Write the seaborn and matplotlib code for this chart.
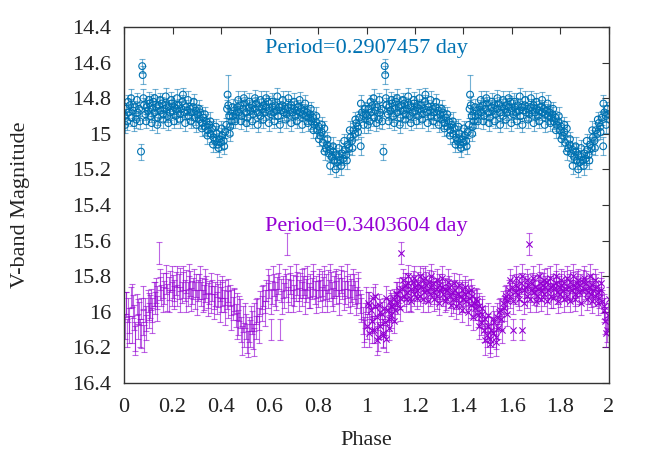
import matplotlib
matplotlib.use("Agg")
import matplotlib.pyplot as plt
import seaborn as sns
import pandas as pd
from matplotlib.ticker import MultipleLocator, FuncFormatter

# Curva de luz azul (periodo 0.2907457 d), fase 0-1
azul_fase = [
    0.003, 0.008, 0.013, 0.019, 0.024, 0.031, 0.037, 0.044, 0.050, 0.056,
    0.062, 0.070, 0.075, 0.077, 0.082, 0.088, 0.093, 0.099, 0.105, 0.110,
    0.116, 0.121, 0.127, 0.133, 0.139, 0.144, 0.150, 0.156, 0.161, 0.167,
    0.173, 0.178, 0.184, 0.190, 0.196, 0.201, 0.207, 0.213, 0.219, 0.225,
    0.231, 0.237, 0.243, 0.249, 0.255, 0.261, 0.267, 0.273, 0.279, 0.285,
    0.291, 0.297, 0.303, 0.309, 0.315, 0.321, 0.327, 0.333, 0.339, 0.345,
    0.351, 0.357, 0.363, 0.369, 0.375, 0.381, 0.387, 0.393, 0.399, 0.405,
    0.411, 0.417, 0.422, 0.427, 0.430, 0.434, 0.438, 0.443, 0.449, 0.455,
    0.461, 0.467, 0.473, 0.479, 0.485, 0.491, 0.497, 0.503, 0.509, 0.515,
    0.521, 0.527, 0.533, 0.539, 0.545, 0.551, 0.557, 0.563, 0.569, 0.575,
    0.581, 0.587, 0.593, 0.599, 0.605, 0.611, 0.617, 0.623, 0.629, 0.635,
    0.641, 0.647, 0.653, 0.659, 0.665, 0.671, 0.677, 0.683, 0.689, 0.695,
    0.701, 0.707, 0.713, 0.719, 0.725, 0.731, 0.737, 0.743, 0.749, 0.755,
    0.761, 0.767, 0.773, 0.779, 0.785, 0.791, 0.797, 0.803, 0.809, 0.815,
    0.820, 0.826, 0.832, 0.838, 0.844, 0.850, 0.856, 0.862, 0.868, 0.874,
    0.880, 0.886, 0.892, 0.898, 0.904, 0.910, 0.916, 0.922, 0.928, 0.934,
    0.940, 0.946, 0.952, 0.958, 0.964, 0.970, 0.976, 0.981, 0.987, 0.993,
    0.998]
azul_mag = [
    14.90, 14.86, 14.93, 14.88, 14.84, 14.91, 14.87, 14.85, 14.92, 14.88,
    14.86, 15.10, 14.62, 14.67, 14.84, 14.89, 14.85, 14.87, 14.83, 14.90,
    14.86, 14.82, 14.88, 14.85, 14.91, 14.84, 14.87, 14.83, 14.89, 14.86,
    14.84, 14.90, 14.85, 14.88, 14.83, 14.87, 14.85, 14.90, 14.86, 14.84,
    14.89, 14.86, 14.78, 14.88, 14.85, 14.87, 14.90, 14.86, 14.88, 14.85,
    14.91, 14.87, 14.89, 14.92, 14.88, 14.94, 14.91, 14.96, 14.93, 14.98,
    14.95, 15.00, 14.97, 15.02, 15.04, 15.00, 15.06, 15.03, 15.05, 15.01,
    15.04, 14.99, 14.95, 14.78, 14.84, 14.90, 14.96, 14.93, 14.90, 14.87,
    14.89, 14.85, 14.88, 14.84, 14.90, 14.86, 14.83, 14.88, 14.91, 14.85,
    14.87, 14.84, 14.89, 14.86, 14.83, 14.88, 14.85, 14.90, 14.86, 14.84,
    14.88, 14.85, 14.82, 14.87, 14.89, 14.85, 14.88, 14.84, 14.87, 14.90,
    14.85, 14.87, 14.84, 14.88, 14.86, 14.89, 14.85, 14.87, 14.84, 14.88,
    14.86, 14.90, 14.87, 14.85, 14.88, 14.86, 14.89, 14.87, 14.90, 14.88,
    14.91, 14.89, 14.93, 14.91, 14.95, 14.93, 14.98, 14.96, 15.01, 14.99,
    15.05, 14.97, 15.08, 15.06, 15.11, 15.09, 15.13, 15.10, 15.15, 15.12,
    15.16, 15.13, 15.15, 15.11, 15.14, 15.09, 15.12, 15.06, 15.08, 15.02,
    15.04, 14.98, 15.00, 14.94, 14.96, 14.91, 15.07, 14.88, 14.90, 14.86,
    14.89]
azul_err = [
    .040, .035, .050, .040, .035, .045, .040, .035, .050, .040,
    .040, .045, .040, .050, .040, .035, .040, .045, .040, .035,
    .040, .045, .040, .035, .040, .045, .040, .035, .040, .045,
    .040, .035, .040, .045, .040, .035, .040, .045, .040, .035,
    .040, .045, .040, .035, .040, .045, .040, .035, .040, .045,
    .040, .035, .040, .045, .040, .035, .040, .045, .040, .035,
    .040, .045, .040, .035, .040, .045, .040, .035, .040, .045,
    .040, .035, .040, .110, .050, .040, .045, .040, .035, .040,
    .045, .040, .035, .040, .045, .040, .035, .040, .045, .040,
    .035, .040, .045, .040, .035, .040, .045, .040, .035, .040,
    .045, .040, .035, .040, .045, .040, .035, .040, .045, .040,
    .035, .040, .045, .040, .035, .040, .045, .040, .035, .040,
    .045, .040, .035, .040, .045, .040, .035, .040, .045, .040,
    .035, .040, .045, .040, .035, .040, .045, .040, .035, .040,
    .045, .040, .035, .040, .045, .040, .035, .040, .045, .040,
    .035, .040, .045, .040, .035, .040, .045, .040, .035, .040,
    .045, .040, .035, .040, .045, .040, .050, .040, .035, .040,
    .045]

# segunda tanda de observaciones azules (mas dispersas)
azul_fase_b = [
    0.005, 0.017, 0.029, 0.041, 0.053, 0.065, 0.080, 0.091, 0.103, 0.114,
    0.126, 0.137, 0.149, 0.160, 0.172, 0.183, 0.195, 0.206, 0.218, 0.229,
    0.241, 0.252, 0.264, 0.275, 0.287, 0.298, 0.310, 0.321, 0.333, 0.344,
    0.356, 0.367, 0.379, 0.390, 0.402, 0.413, 0.425, 0.436, 0.448, 0.459,
    0.471, 0.482, 0.494, 0.505, 0.517, 0.528, 0.540, 0.551, 0.563, 0.574,
    0.586, 0.597, 0.609, 0.620, 0.632, 0.643, 0.655, 0.666, 0.678, 0.689,
    0.701, 0.712, 0.724, 0.735, 0.747, 0.758, 0.770, 0.781, 0.793, 0.804,
    0.816, 0.827, 0.839, 0.850, 0.862, 0.873, 0.885, 0.896, 0.908, 0.919,
    0.931, 0.942, 0.954, 0.965, 0.977, 0.988]
azul_mag_b = [
    14.95, 14.82, 14.80, 14.94, 14.81, 14.93, 14.80, 14.93, 14.81, 14.94,
    14.80, 14.95, 14.81, 14.92, 14.79, 14.94, 14.81, 14.93, 14.80, 14.92,
    14.82, 14.94, 14.81, 14.93, 14.82, 14.95, 14.86, 14.97, 14.89, 15.01,
    14.93, 15.06, 14.96, 15.08, 14.97, 15.07, 14.86, 15.00, 14.85, 14.93,
    14.81, 14.93, 14.80, 14.94, 14.82, 14.93, 14.80, 14.95, 14.81, 14.92,
    14.80, 14.94, 14.82, 14.93, 14.79, 14.95, 14.81, 14.92, 14.80, 14.94,
    14.82, 14.93, 14.81, 14.95, 14.83, 14.94, 14.86, 14.98, 14.90, 15.03,
    14.95, 15.10, 15.03, 15.18, 15.07, 15.20, 15.08, 15.18, 15.04, 15.15,
    14.98, 15.08, 14.92, 14.99, 14.83, 14.95]
azul_err_b = [
    .045, .040, .050, .045, .040, .045, .050, .040, .045, .040,
    .050, .045, .040, .045, .050, .040, .045, .040, .050, .045,
    .040, .045, .050, .040, .045, .040, .050, .045, .040, .045,
    .050, .040, .045, .050, .040, .045, .050, .040, .045, .040,
    .050, .045, .040, .045, .050, .040, .045, .040, .050, .045,
    .040, .045, .050, .040, .045, .040, .050, .045, .040, .045,
    .050, .040, .045, .040, .050, .045, .040, .045, .050, .040,
    .045, .050, .040, .045, .050, .040, .045, .050, .040, .045,
    .050, .040, .045, .040, .050, .045]

# Curva de luz morada (periodo 0.3403604 d), fase 0-1
morado_fase = [
    0.002, 0.007, 0.012, 0.017, 0.022, 0.027, 0.032, 0.037, 0.042, 0.047,
    0.052, 0.057, 0.062, 0.067, 0.072, 0.077, 0.082, 0.087, 0.092, 0.097,
    0.102, 0.107, 0.112, 0.117, 0.122, 0.127, 0.132, 0.137, 0.144, 0.148,
    0.154, 0.160, 0.166, 0.172, 0.178, 0.184, 0.190, 0.196, 0.202, 0.208,
    0.214, 0.220, 0.226, 0.232, 0.238, 0.244, 0.250, 0.256, 0.262, 0.268,
    0.274, 0.280, 0.286, 0.292, 0.298, 0.304, 0.310, 0.316, 0.322, 0.328,
    0.334, 0.340, 0.346, 0.352, 0.358, 0.364, 0.370, 0.376, 0.382, 0.388,
    0.394, 0.400, 0.406, 0.412, 0.418, 0.424, 0.430, 0.436, 0.442, 0.448,
    0.454, 0.460, 0.466, 0.472, 0.478, 0.484, 0.490, 0.496, 0.502, 0.508,
    0.514, 0.520, 0.526, 0.532, 0.538, 0.544, 0.550, 0.556, 0.562, 0.568,
    0.574, 0.580, 0.586, 0.592, 0.598, 0.606, 0.612, 0.618, 0.624, 0.630,
    0.636, 0.642, 0.648, 0.654, 0.660, 0.666, 0.672, 0.678, 0.684, 0.690,
    0.696, 0.702, 0.708, 0.714, 0.720, 0.726, 0.732, 0.738, 0.744, 0.750,
    0.756, 0.762, 0.768, 0.774, 0.780, 0.786, 0.792, 0.798, 0.804, 0.810,
    0.816, 0.822, 0.828, 0.834, 0.840, 0.846, 0.852, 0.858, 0.864, 0.870,
    0.876, 0.882, 0.888, 0.894, 0.900, 0.906, 0.912, 0.918, 0.924, 0.930,
    0.936, 0.942, 0.948, 0.954, 0.960, 0.966, 0.972, 0.978, 0.984, 0.990,
    0.995]
morado_mag = [
    16.08, 15.95, 16.12, 15.99, 16.05, 15.92, 16.10, 15.97, 16.03, 16.14,
    15.96, 16.08, 16.01, 16.12, 15.98, 16.06, 16.15, 15.99, 16.04, 15.94,
    16.02, 15.97, 15.93, 15.99, 15.90, 15.95, 15.88, 15.92, 15.67, 15.87,
    15.91, 15.85, 15.89, 15.84, 15.92, 15.87, 15.83, 15.90, 15.86, 15.88,
    15.84, 15.91, 15.86, 15.82, 15.89, 15.85, 15.88, 15.83, 15.90, 15.86,
    15.84, 15.89, 15.87, 15.91, 15.85, 15.88, 15.86, 15.90, 15.87, 15.92,
    15.88, 15.86, 15.91, 15.89, 15.93, 15.88, 15.92, 15.90, 15.95, 15.91,
    15.88, 15.93, 15.90, 15.94, 15.89, 15.92, 15.96, 15.91, 15.95, 15.98,
    15.94, 16.02, 15.97, 16.06, 16.01, 16.10, 16.04, 16.13, 16.08, 16.15,
    16.10, 16.12, 16.06, 16.14, 16.03, 16.09, 15.99, 16.04, 15.95, 15.98,
    15.91, 15.94, 15.88, 15.91, 15.86, 16.10, 15.89, 15.85, 15.90, 15.87,
    15.84, 16.10, 15.88, 15.86, 15.91, 15.85, 15.62, 15.88, 15.84, 15.89,
    15.86, 15.91, 15.87, 15.84, 15.88, 15.85, 15.90, 15.86, 15.83, 15.88,
    15.86, 15.91, 15.85, 15.87, 15.84, 15.89, 15.86, 15.90, 15.85, 15.88,
    15.84, 15.87, 15.91, 15.86, 15.83, 15.88, 15.85, 15.90, 15.86, 15.84,
    15.89, 15.85, 15.88, 15.83, 15.87, 15.84, 15.89, 15.86, 15.90, 15.85,
    15.88, 15.91, 15.86, 15.89, 15.92, 15.88, 15.94, 15.99, 16.05, 16.10,
    16.02]
morado_err = [
    .070, .060, .080, .065, .070, .060, .075, .065, .070, .080,
    .060, .070, .065, .080, .060, .070, .075, .065, .070, .060,
    .070, .065, .060, .070, .065, .060, .070, .065, .060, .065,
    .060, .070, .065, .060, .075, .065, .060, .070, .065, .060,
    .065, .060, .070, .065, .060, .075, .060, .065, .070, .060,
    .070, .065, .060, .075, .065, .060, .070, .065, .060, .070,
    .065, .060, .070, .065, .075, .060, .065, .070, .060, .065,
    .060, .070, .065, .060, .070, .065, .075, .060, .070, .065,
    .070, .065, .075, .070, .080, .070, .075, .065, .070, .080,
    .070, .075, .065, .070, .080, .065, .070, .060, .065, .070,
    .060, .065, .060, .070, .065, .060, .065, .060, .070, .065,
    .060, .060, .065, .060, .070, .065, .060, .065, .060, .070,
    .065, .060, .070, .065, .060, .070, .065, .060, .075, .065,
    .060, .070, .065, .060, .070, .065, .060, .075, .065, .060,
    .070, .065, .060, .070, .065, .060, .075, .065, .060, .070,
    .065, .060, .070, .065, .060, .070, .065, .060, .075, .065,
    .065, .060, .070, .065, .060, .070, .065, .070, .075, .070,
    .070]

# segunda tanda de observaciones moradas
morado_fase_b = [
    0.009, 0.021, 0.033, 0.044, 0.056, 0.068, 0.079, 0.091, 0.103, 0.114,
    0.126, 0.138, 0.150, 0.161, 0.173, 0.185, 0.196, 0.208, 0.220, 0.231,
    0.243, 0.255, 0.266, 0.278, 0.290, 0.301, 0.313, 0.325, 0.336, 0.348,
    0.360, 0.371, 0.383, 0.395, 0.406, 0.418, 0.430, 0.441, 0.453, 0.465,
    0.476, 0.488, 0.500, 0.511, 0.523, 0.535, 0.546, 0.558, 0.570, 0.581,
    0.593, 0.605, 0.616, 0.628, 0.640, 0.651, 0.663, 0.675, 0.686, 0.698,
    0.710, 0.721, 0.733, 0.745, 0.756, 0.768, 0.780, 0.791, 0.803, 0.815,
    0.826, 0.838, 0.850, 0.861, 0.873, 0.885, 0.896, 0.908, 0.920, 0.931,
    0.943, 0.955, 0.966, 0.978, 0.989, 0.998]
morado_mag_b = [
    15.96, 16.10, 15.91, 16.16, 16.00, 16.13, 15.92, 16.09, 15.97, 16.05,
    15.90, 15.98, 15.82, 15.93, 15.80, 15.94, 15.81, 15.92, 15.80, 15.93,
    15.81, 15.94, 15.80, 15.93, 15.82, 15.95, 15.81, 15.94, 15.83, 15.96,
    15.84, 15.97, 15.85, 15.99, 15.86, 16.00, 15.88, 16.03, 15.93, 16.08,
    15.98, 16.16, 16.02, 16.18, 16.04, 16.17, 16.00, 16.10, 15.92, 16.01,
    15.82, 15.94, 15.81, 15.93, 15.80, 15.95, 15.82, 15.93, 15.81, 15.94,
    15.80, 15.93, 15.82, 15.94, 15.81, 15.92, 15.80, 15.94, 15.82, 15.93,
    15.81, 15.94, 15.80, 15.93, 15.82, 15.95, 15.81, 15.93, 15.80, 15.94,
    15.82, 15.95, 15.84, 15.97, 16.12, 15.93]
morado_err_b = [
    .070, .075, .065, .080, .070, .075, .065, .070, .075, .070,
    .065, .070, .060, .070, .065, .060, .070, .065, .060, .070,
    .065, .060, .070, .065, .060, .070, .065, .060, .070, .065,
    .060, .070, .065, .070, .060, .075, .065, .070, .065, .075,
    .070, .080, .070, .075, .070, .080, .070, .075, .065, .070,
    .060, .070, .065, .060, .070, .065, .060, .070, .065, .060,
    .070, .065, .060, .070, .065, .060, .070, .065, .060, .070,
    .065, .060, .070, .065, .060, .070, .065, .060, .070, .065,
    .060, .070, .065, .070, .075, .070]

AZUL = "#0072b2"
MORADO = "#9400d3"


def dos_ciclos(fase, mag, err):
    """Repite la curva plegada en fase 0-1 sobre la fase 1-2"""
    df = pd.DataFrame({"fase": fase, "mag": mag, "err": err})
    df2 = df.copy()
    df2["fase"] = df2["fase"] + 1
    return pd.concat([df.assign(ciclo=0), df2.assign(ciclo=1)], ignore_index=True)


azul = dos_ciclos(azul_fase + azul_fase_b, azul_mag + azul_mag_b, azul_err + azul_err_b)
morado = dos_ciclos(morado_fase + morado_fase_b, morado_mag + morado_mag_b,
                    morado_err + morado_err_b)

sns.set_style("white")
plt.rcParams["font.family"] = ["Liberation Serif", "DejaVu Serif"]

fig = plt.figure(figsize=(6.5, 4.55), dpi=100)
ax = fig.add_axes([0.1908, 0.1582, 0.7461, 0.7825])

# barras de error
ax.errorbar(azul["fase"], azul["mag"], yerr=azul["err"], fmt="none",
            ecolor=AZUL, alpha=0.55, elinewidth=0.8, capsize=2.5, capthick=0.8)
ax.errorbar(morado["fase"], morado["mag"], yerr=morado["err"], fmt="none",
            ecolor=MORADO, alpha=0.6, elinewidth=0.8, capsize=2.5, capthick=0.8)

# puntos
sns.scatterplot(data=azul, x="fase", y="mag", marker="o", s=24, color=AZUL,
                facecolor="none", edgecolor=AZUL, linewidth=0.8, ax=ax, legend=False)
sns.scatterplot(data=morado[morado["ciclo"] == 1], x="fase", y="mag", marker="x",
                s=20, color=MORADO, linewidth=0.8, ax=ax, legend=False)

ax.text(1.0, 14.545, "Period=0.2907457 day", color=AZUL, fontsize=16,
        ha="center", va="baseline")
ax.text(1.0, 15.545, "Period=0.3403604 day", color=MORADO, fontsize=16,
        ha="center", va="baseline")

ax.set_xlim(0, 2)
ax.set_ylim(16.4, 14.4)
ax.xaxis.set_major_locator(MultipleLocator(0.2))
ax.yaxis.set_major_locator(MultipleLocator(0.2))
fmt = FuncFormatter(lambda v, p: f"{v:g}")
ax.xaxis.set_major_formatter(fmt)
ax.yaxis.set_major_formatter(fmt)
ax.tick_params(direction="in", top=True, right=True, length=5, width=0.8,
               labelsize=16, color="#333333", labelcolor="#222222")
ax.tick_params(axis="x", pad=11)
ax.tick_params(axis="y", pad=9)

for s in ax.spines.values():
    s.set_linewidth(1.0)
    s.set_color("#333333")

ax.set_xlabel("Phase", fontsize=16, color="#222222")
ax.set_ylabel("V-band Magnitude", fontsize=16, color="#222222")
ax.xaxis.set_label_coords(0.5, -0.135)
ax.yaxis.set_label_coords(-0.194, 0.5)

fig.savefig("out.png", dpi=100)
